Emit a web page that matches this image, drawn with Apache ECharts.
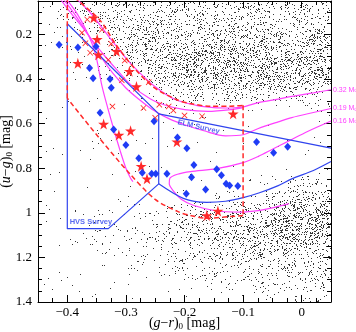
<!DOCTYPE html>
<html>
<head>
<meta charset="utf-8">
<script src="https://cdn.jsdelivr.net/npm/echarts@6/dist/echarts.min.js"></script>
<style>
  html, body { margin: 0; padding: 0; background: #fff; }
  #main { width: 356px; height: 332px; }
</style>
</head>
<body>
<div id="main"></div>
<script>
// ---- axis ticks ----
const xTicks = [-0.4, -0.3, -0.2, -0.1, 0];
const yTicks = [0.2, 0.4, 0.6, 0.8, 1, 1.2, 1.4];

// ---- targets ----
const blueDiamonds = [
  [-0.414, 0.246], [-0.382, 0.258], [-0.351, 0.254], [-0.362, 0.351], [-0.356, 0.397],
  [-0.327, 0.400], [-0.325, 0.439], [-0.344, 0.551], [-0.321, 0.626], [-0.300, 0.696],
  [-0.278, 0.755], [-0.252, 0.589], [-0.212, 0.662], [-0.196, 0.710], [-0.184, 0.786],
  [-0.145, 0.805], [-0.077, 0.682], [-0.048, 0.731], [-0.024, 0.704], [-0.272, 0.820],
  [-0.256, 0.825], [-0.249, 0.825], [-0.230, 0.825], [-0.188, 0.840], [-0.137, 0.832],
  [-0.129, 0.870], [-0.123, 0.877], [-0.109, 0.880], [-0.164, 0.895], [-0.197, 0.915]
];
const redStars = [
  [-0.355, 0.125], [-0.349, 0.222], [-0.347, 0.291], [-0.316, 0.275], [-0.382, 0.329],
  [-0.294, 0.365], [-0.282, 0.434], [-0.338, 0.602], [-0.312, 0.651], [-0.292, 0.632],
  [-0.274, 0.791], [-0.264, 0.847], [-0.213, 0.681], [-0.162, 1.012], [-0.143, 0.992],
  [-0.117, 0.556]
];
const redCrosses = [
  [-0.366, 0.133], [-0.341, 0.179], [-0.375, 0.192], [-0.369, 0.239], [-0.361, 0.282],
  [-0.325, 0.242], [-0.330, 0.314], [-0.302, 0.317], [-0.307, 0.406], [-0.261, 0.414],
  [-0.323, 0.523], [-0.270, 0.530], [-0.243, 0.515], [-0.227, 0.523], [-0.219, 0.541],
  [-0.250, 0.574], [-0.200, 0.563], [-0.170, 0.567]
];

// ---- cooling tracks (magenta) ----
const track032 = [
  [-0.388, 0.03], [-0.36, 0.105], [-0.332, 0.2], [-0.305, 0.29], [-0.284, 0.352],
  [-0.25, 0.435], [-0.216, 0.492], [-0.18, 0.518], [-0.15, 0.528], [-0.12, 0.53],
  [-0.10, 0.525], [-0.074, 0.506], [-0.04, 0.49], [-0.017, 0.478], [0.02, 0.462], [0.05, 0.448]
];
const trackMid = [
  [-0.415, 0.03], [-0.395, 0.1], [-0.375, 0.165], [-0.355, 0.235], [-0.335, 0.3],
  [-0.315, 0.36], [-0.292, 0.425], [-0.258, 0.49], [-0.23, 0.52], [-0.2, 0.537],
  [-0.16, 0.545], [-0.12, 0.537], [-0.10, 0.528]
];
const track019 = [
  [-0.41, 0.03], [-0.39, 0.1], [-0.372, 0.17], [-0.355, 0.24], [-0.34, 0.31],
  [-0.322, 0.375], [-0.3, 0.44], [-0.279, 0.488], [-0.25, 0.545], [-0.225, 0.58],
  [-0.2, 0.605], [-0.167, 0.632], [-0.13, 0.655], [-0.1, 0.65], [-0.074, 0.622],
  [-0.04, 0.592], [-0.017, 0.573], [0.02, 0.55], [0.05, 0.532]
];
const track016 = [
  [-0.022, 0.959], [-0.05, 0.978], [-0.071, 0.989], [-0.105, 0.997], [-0.145, 0.992],
  [-0.184, 0.967], [-0.205, 0.94], [-0.218, 0.905], [-0.226, 0.87], [-0.225, 0.845],
  [-0.212, 0.827], [-0.19, 0.815], [-0.145, 0.802], [-0.10, 0.775], [-0.074, 0.747],
  [-0.05, 0.715], [-0.02, 0.675], [0.01, 0.635], [0.05, 0.588]
];
const trackSteep = [
  [-0.405, 0.03], [-0.385, 0.1], [-0.37, 0.17], [-0.358, 0.24], [-0.35, 0.31],
  [-0.341, 0.43], [-0.331, 0.53], [-0.321, 0.623], [-0.31, 0.72], [-0.3, 0.8],
  [-0.292, 0.845], [-0.288, 0.86]
];

// ---- survey selection regions ----
const hvsBox = [[-0.40, 0.152], [-0.244, 0.556], [-0.244, 0.870], [-0.33, 1.071], [-0.40, 1.071], [-0.40, 0.152]];
const elmUpper = [[-0.244, 0.556], [0.05, 0.71]];
const elmLower = [
  [-0.244, 0.870], [-0.202, 0.935], [-0.162, 0.953], [-0.13, 0.948], [-0.10, 0.932],
  [-0.072, 0.91], [-0.04, 0.878], [-0.017, 0.848], [0.02, 0.81], [0.05, 0.77]
];
const dashTop = [
  [-0.388, 0.035], [-0.344, 0.137], [-0.318, 0.242], [-0.287, 0.347], [-0.253, 0.436],
  [-0.213, 0.493], [-0.19, 0.51], [-0.156, 0.522], [-0.122, 0.522], [-0.10, 0.518]
];
const dashRight = [[-0.10, 0.518], [-0.10, 1.012]];
const dashBottom = [
  [-0.10, 1.012], [-0.122, 1.017], [-0.162, 1.024], [-0.19, 1.012], [-0.21, 0.996],
  [-0.25, 0.94], [-0.296, 0.817], [-0.35, 0.65], [-0.40, 0.486]
];
const dashLeft = [[-0.40, 0.486], [-0.40, 0.03]];

const surveyLabels = [
  { name: 'ELM Survey', value: [-0.176, 0.615], rotate: -13 },
  { name: 'HVS Survey', value: [-0.396, 1.04], rotate: 0 }
];

// background SDSS stars: density level (0-9) read per cell,
// x step 0.025 from -0.45, y step 0.05 from 0.05
const densityRows = [
  '12344444444444444444',
  '11234444444444444444',
  '01124455555555555555',
  '01112456666666666666',
  '01111356777777777666',
  '00111146788888888777',
  '00011124678888887777',
  '00001112356777776665',
  '00000011123444443333',
  '00000000011111111111',
  '00000000000000000000',
  '00000000000000000000',
  '00000000000000000000',
  '00000000000000000000',
  '00000000000000000000',
  '00000000000000000011',
  '00000000000000111223',
  '00000000000011223455',
  '00000011122334456777',
  '00011112233445678888',
  '00011122334456678888',
  '00111122334455667777',
  '00001112233344555555',
  '00000011122233444444',
  '00000000111222333333',
  '00000000000111122222',
  '00000000000000011111'
];
const cellW = 0.025, cellH = 0.05, cellX0 = -0.45, cellY0 = 0.05;

// how a density level is drawn: share of pixels that get a dot
const dotShare = [0.003, 0.02, 0.045, 0.07, 0.095, 0.12, 0.15, 0.18, 0.22, 0.26];
// fixed per-pixel dither threshold so neighbouring cells blend
function dither(x, y) {
  let n = (Math.imul(x, 374761393) + Math.imul(y, 668265263)) | 0;
  n = Math.imul(n ^ (n >>> 13), 1274126177);
  n ^= n >>> 16;
  return (n >>> 0) / 4294967296;
}

function steps(a, b, s) {
  const out = [];
  for (let k = 0; a + k * s <= b + 1e-9; k++) out.push(+(a + k * s).toFixed(4));
  return out;
}
const xMinor = steps(-0.45, 0.05, 0.025);
const yMinor = steps(0.05, 1.4, 0.05);

const serif = 'Liberation Serif';
const magenta = '#ff40ff';
const blue = '#2f43ee';
const red = '#ff2a2a';

function axes(pos, min, max, major, minor, inverse, label) {
  const base = { type: 'value', min: min, max: max, inverse: inverse, position: pos, splitLine: { show: false } };
  return [
    Object.assign({}, base, {
      axisLine: { show: true, onZero: false, lineStyle: { color: '#000', width: 1 } },
      axisTick: { inside: true, length: 7, customValues: major, lineStyle: { color: '#000' } },
      axisLabel: label || { show: false }
    }),
    Object.assign({}, base, {
      axisLine: { show: false, onZero: false },
      axisTick: { inside: true, length: 4, customValues: minor, lineStyle: { color: '#000' } },
      axisLabel: { show: false }
    })
  ];
}

const fmtX = v => {
  const r = Math.round(v * 10) / 10;
  return r === 0 ? '0' : (r < 0 ? '\u2212' + Math.abs(r) : String(r));
};
const fmtY = v => String(Math.round(v * 10) / 10);

const xAx = axes('bottom', -0.45, 0.05, xTicks, xMinor, false,
  { customValues: xTicks, formatter: fmtX, color: '#000', fontFamily: serif, fontSize: 13, margin: 4 })
  .concat(axes('top', -0.45, 0.05, xTicks, xMinor, false, null));
const yAx = axes('left', 0.05, 1.4, yTicks, yMinor, true,
  { customValues: yTicks, formatter: fmtY, color: '#000', fontFamily: serif, fontSize: 13, margin: 6 })
  .concat(axes('right', 0.05, 1.4, yTicks, yMinor, true, null));

const nameRich = {
  i: { fontStyle: 'italic', fontFamily: serif, fontSize: 14, color: '#000' },
  n: { fontFamily: serif, fontSize: 14, color: '#000' },
  s: { fontFamily: serif, fontSize: 9, color: '#000', verticalAlign: 'bottom', lineHeight: 16 }
};
Object.assign(xAx[0], {
  name: '{n|(}{i|g}{n|\u2212}{i|r}{n|)}{s|0}{n| [mag]}', nameLocation: 'middle', nameGap: 13,
  nameMoveOverlap: false, nameTextStyle: { rich: nameRich }
});
Object.assign(yAx[0], {
  name: '{n|(}{i|u}{n|\u2212}{i|g}{n|)}{s|0}{n| [mag]}', nameLocation: 'middle', nameGap: 24,
  nameMoveOverlap: false, nameTextStyle: { rich: nameRich }
});

function line(data, color, extra) {
  return Object.assign({
    type: 'line', data: data, symbol: 'none', smooth: 0.3, silent: true, z: 3,
    lineStyle: { color: color, width: 1.2 }
  }, extra || {});
}
function endLbl(text) {
  return {
    show: true, formatter: text + ' M{s|\u2299}', color: magenta, fontSize: 7,
    fontFamily: 'Liberation Sans', distance: 2,
    rich: { s: { fontSize: 5, color: magenta, verticalAlign: 'bottom' } }
  };
}
const dashed = { color: red, width: 1.5, type: [5, 3] };

// draws the density grid as a speckle layer, cell corners placed by the axes
function renderDensity(params, api) {
  const W = api.getWidth(), H = api.getHeight();
  const cv = document.createElement('canvas');
  cv.width = W; cv.height = H;
  const ctx = cv.getContext('2d');
  ctx.fillStyle = 'rgba(0,0,0,0.78)';
  densityRows.forEach((row, i) => {
    for (let j = 0; j < row.length; j++) {
      const share = dotShare[+row[j]];
      const vx = cellX0 + j * cellW, vy = cellY0 + i * cellH;
      const a = api.coord([vx, vy]);
      const b = api.coord([vx + cellW, vy + cellH]);
      const x0 = Math.round(Math.min(a[0], b[0])), x1 = Math.round(Math.max(a[0], b[0]));
      const y0 = Math.round(Math.min(a[1], b[1])), y1 = Math.round(Math.max(a[1], b[1]));
      for (let y = y0; y < y1; y++) {
        for (let x = x0; x < x1; x++) {
          if (dither(x, y) < share) ctx.fillRect(x, y, 1, 1);
        }
      }
    }
  });
  return { type: 'image', style: { image: cv, x: 0, y: 0, width: W, height: H } };
}

const chart = echarts.init(document.getElementById('main'), null, { renderer: 'canvas' });
chart.setOption({
  animation: false,
  backgroundColor: '#fff',
  grid: { left: 38, right: 25, top: 1, bottom: 30, containLabel: false, outerBoundsMode: 'none' },
  xAxis: xAx,
  yAxis: yAx,
  series: [
    {
      type: 'custom', data: [[cellX0, cellY0]], encode: { x: 0, y: 1 }, z: 1, silent: true,
      renderItem: renderDensity
    },
    line(trackSteep, magenta),
    line(trackMid, magenta),
    line(track032, magenta, { endLabel: endLbl('0.32') }),
    line(track019, magenta, { endLabel: endLbl('0.19') }),
    line(track016, magenta, { endLabel: endLbl('0.16') }),
    line(hvsBox, blue, { smooth: false, z: 4 }),
    line(elmUpper, blue, { smooth: false, z: 4 }),
    line(elmLower, blue, { z: 4 }),
    line(dashTop, red, { lineStyle: dashed, z: 4 }),
    line(dashRight, red, { smooth: false, lineStyle: dashed, z: 4 }),
    line(dashBottom, red, { lineStyle: dashed, z: 4 }),
    line(dashLeft, red, { smooth: false, lineStyle: dashed, z: 4 }),
    {
      type: 'scatter', data: redCrosses, z: 5, silent: true,
      symbol: 'path://M1,0 L5,4 L9,0 L10,1 L6,5 L10,9 L9,10 L5,6 L1,10 L0,9 L4,5 L0,1 Z',
      symbolSize: 6, itemStyle: { color: red, opacity: 1 }
    },
    {
      type: 'scatter', data: redStars, z: 6, silent: true,
      symbol: 'path://M50,0 L61,35 L98,35 L68,57 L79,91 L50,70 L21,91 L32,57 L2,35 L39,35 Z',
      symbolSize: 11, itemStyle: { color: red, opacity: 1 }
    },
    {
      type: 'scatter', data: blueDiamonds, z: 6, silent: true,
      symbol: 'diamond', symbolSize: [7, 8], itemStyle: { color: '#1f3cf5', opacity: 1 }
    },
    {
      type: 'scatter', z: 7, silent: true, symbolSize: 0,
      data: surveyLabels.map(d => ({
        value: d.value,
        label: {
          show: true, formatter: d.name, rotate: d.rotate,
          position: d.rotate ? 'inside' : 'right', distance: 0,
          color: blue, fontSize: 7.5, fontWeight: 'bold', fontFamily: 'Liberation Sans'
        }
      }))
    }
  ]
});
</script>
</body>
</html>
